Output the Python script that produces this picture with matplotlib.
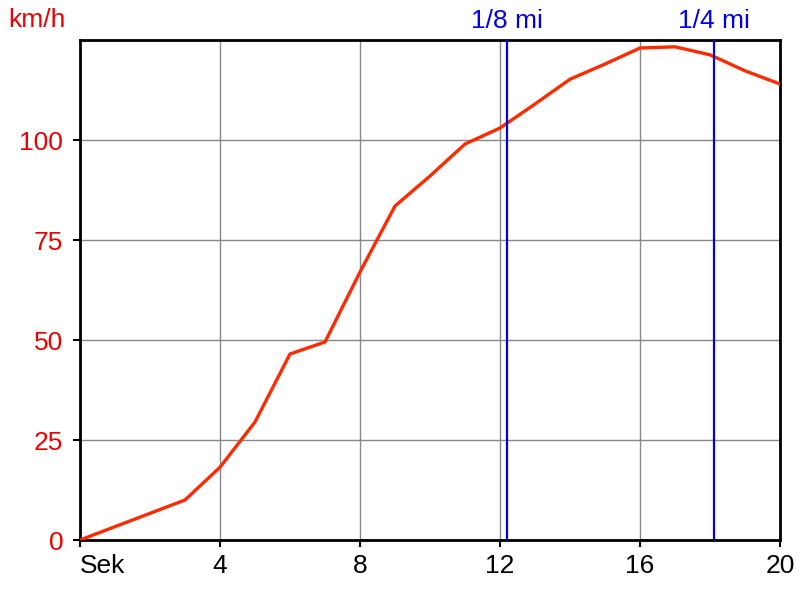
import matplotlib.pyplot as plt

plt.rcParams['font.family'] = ['Liberation Sans', 'DejaVu Sans']

# Zeit (s) und Geschwindigkeit (km/h)
sek = [0, 3, 4, 5, 6, 7, 8, 9, 10, 11, 12, 13, 14, 15, 16, 17, 18, 19, 20]
kmh = [0, 10, 18.2, 29.5, 46.5, 49.5, 67, 83.5, 91, 99, 103, 109, 115.2,
       119, 123, 123.3, 121.3, 117.3, 114]

# Markierungen 1/8 mi und 1/4 mi
marken = [12.2, 18.1]
marken_text = ['1/8 mi', '1/4 mi']

x_ticks = [0, 4, 8, 12, 16, 20]
x_labels = ['Sek', '4', '8', '12', '16', '20']
y_ticks = [0, 25, 50, 75, 100]

fig = plt.figure(figsize=(8, 6), dpi=100)
ax = fig.add_axes([0.1, 0.1, 0.875, 0.8333])

ax.grid(True, color='#888888', linewidth=1)
ax.set_axisbelow(True)

ax.plot(sek, kmh, color='#ff2a00', linewidth=2.4, solid_joinstyle='round', zorder=3)

for m, t in zip(marken, marken_text):
    ax.axvline(m, color='#0000ee', linewidth=1.6, zorder=4)
    ax.text(m, 128, t, color='#0000ee', fontsize=19, ha='center', va='baseline',
            clip_on=False)

ax.set_xlim(0, 20)
ax.set_ylim(0, 125)
ax.set_xticks(x_ticks)
ax.set_xticklabels(x_labels, fontsize=19)
ax.set_yticks(y_ticks)
ax.set_yticklabels([str(v) for v in y_ticks], fontsize=19, color='#ee0000')
ax.get_xticklabels()[0].set_ha('left')

ax.tick_params(axis='both', direction='out', length=5, width=1.5, color='black')
ax.tick_params(axis='x', pad=5)
ax.tick_params(axis='y', pad=7)
for s in ax.spines.values():
    s.set_linewidth(2)
    s.set_color('black')

fig.text(0.01, 1 - 27 / 600, 'km/h', color='#ee0000', fontsize=19, ha='left', va='baseline')

plt.savefig('out.png', dpi=100)
